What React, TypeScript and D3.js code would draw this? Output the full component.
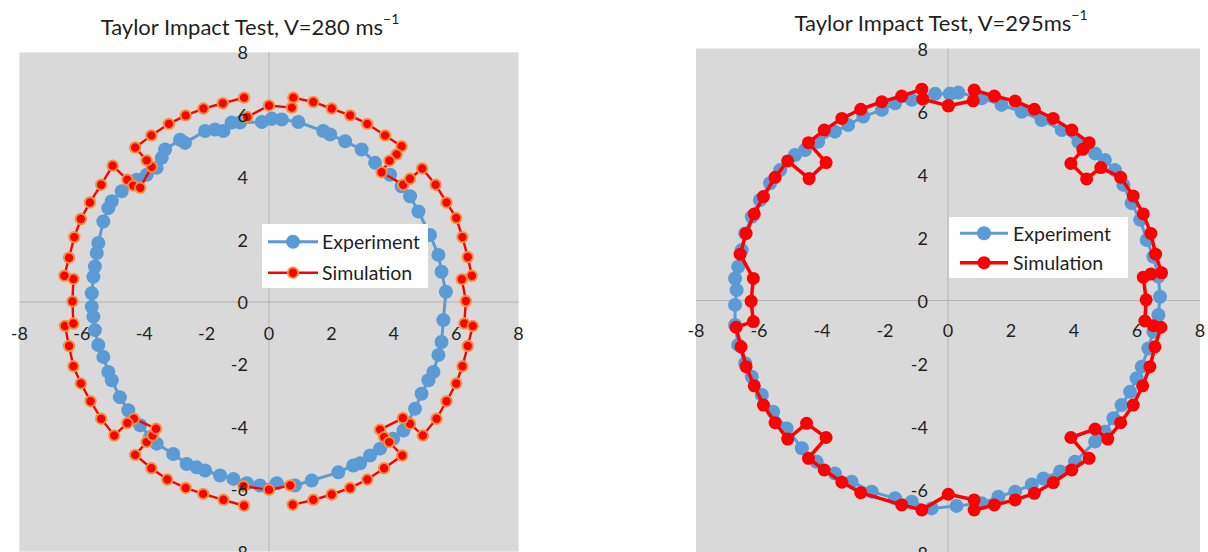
import React from 'react';
import * as d3 from 'd3';

type Pt = [number, number] | null;

// axis ticks shared by both charts
const ticks = [-8, -6, -4, -2, 0, 2, 4, 6, 8];

// V = 280 m/s
const experiment280: Pt[] = [
  [0.09, 5.87], [0.41, 5.85], [0.94, 5.77], [1.74, 5.48], [1.96, 5.37], [2.44, 5.15],
  [2.97, 4.89], [3.4, 4.46], [3.88, 4.08], [4.25, 3.71], [4.52, 3.39], [4.79, 2.9],
  [5.16, 2.15], [5.43, 1.51], [5.53, 0.97], [5.67, 0.33], [5.59, -0.58], [5.53, -1.28],
  [5.43, -1.7], [5.27, -2.24], [5.11, -2.51], [4.89, -2.94], [4.68, -3.42], [4.31, -4.12],
  [3.98, -4.38], [3.56, -4.7], [3.24, -4.92], [2.92, -5.17], [2.7, -5.24], [2.22, -5.46],
  [1.37, -5.72], [0.83, -5.88], [0.25, -5.81], [-0.29, -5.88], [-0.71, -5.81], [-1.14, -5.67],
  [-1.57, -5.56], [-2.05, -5.4], [-2.32, -5.3], [-2.64, -5.19], [-3.07, -4.87], [-3.6, -4.54],
  [-3.81, -4.33], [-4.13, -3.95], [-4.51, -3.47], [-4.78, -3.05], [-5.04, -2.51], [-5.15, -2.24],
  [-5.31, -1.76], [-5.47, -1.38], [-5.58, -0.9], [-5.63, -0.47], [-5.68, -0.15], [-5.68, 0.28],
  [-5.63, 0.81], [-5.58, 1.14], [-5.52, 1.57], [-5.47, 1.89], [-5.31, 2.58], [-5.15, 3.01],
  [-5.04, 3.23], [-4.72, 3.55], [-4.24, 3.92], [-3.92, 4.08], [-3.6, 4.3], [-3.44, 4.62],
  [-3.33, 4.89], [-2.85, 5.2], [-2.69, 5.1], [-2.05, 5.48], [-1.73, 5.53], [-1.46, 5.48],
  [-1.2, 5.75], [-0.93, 5.75], [-0.23, 5.77], [0.09, 5.87],
];

const simulation280: Pt[] = [
  [0.78, 6.55], [1.42, 6.41], [2.01, 6.2], [2.6, 5.98], [3.15, 5.71], [3.72, 5.34],
  [4.25, 4.99], [4.09, 4.73], [3.86, 4.53], [3.61, 4.16], [4.3, 3.76], [4.52, 3.95],
  [4.91, 4.28], [5.34, 3.76], [5.69, 3.19], [6.0, 2.69], [6.2, 2.08], [6.37, 1.44],
  [6.5, 0.84], [6.18, 0.73], [6.31, 0.03], [6.26, -0.69], [6.53, -0.77], [6.37, -1.41],
  [6.2, -2.06], [6.0, -2.61], [5.69, -3.18], [5.37, -3.74], [4.93, -4.28], [4.52, -3.9],
  [4.29, -3.72], [3.56, -4.09], [3.69, -4.33], [3.85, -4.49], [4.27, -4.92], [3.69, -5.33],
  [3.15, -5.69], [2.6, -5.96], [2.01, -6.17], [1.42, -6.34], [0.76, -6.5], null,
  [0.68, -5.88], [0.0, -6.02], [-0.82, -5.9], null,
  [-0.8, -6.53], [-1.46, -6.34], [-2.11, -6.15], [-2.67, -5.96], [-3.26, -5.69], [-3.77, -5.33],
  [-4.29, -4.9], [-3.92, -4.49], [-3.73, -4.28], [-3.62, -4.06], [-4.33, -3.74], [-4.54, -3.88],
  [-4.96, -4.28], [-5.38, -3.74], [-5.72, -3.18], [-6.03, -2.61], [-6.27, -2.06], [-6.41, -1.41],
  [-6.54, -0.77], [-6.27, -0.69], [-6.3, 0.02], [-6.27, 0.74], [-6.56, 0.84], [-6.41, 1.42],
  [-6.24, 2.08], [-6.03, 2.66], [-5.74, 3.19], [-5.38, 3.76], [-5.01, 4.37], [-4.54, 3.92],
  [-4.35, 3.73], [-4.13, 3.66], [-3.76, 4.33], [-3.92, 4.54], [-4.29, 4.95], [-3.77, 5.34],
  [-3.21, 5.71], [-2.67, 5.98], [-2.1, 6.2], [-1.48, 6.37], [-0.8, 6.55], null,
  [-0.7, 5.93], [0.0, 6.3], [0.73, 6.23],
];

// V = 295 m/s
const experiment295: Pt[] = [
  [0.06, 6.56], [0.33, 6.6], [1.07, 6.42], [1.7, 6.21], [2.34, 5.99], [2.97, 5.73],
  [3.61, 5.41], [4.14, 5.04], [4.67, 4.67], [4.98, 4.46], [5.3, 4.14], [5.57, 3.67],
  [5.83, 3.09], [6.1, 2.56], [6.31, 1.92], [6.52, 1.39], [6.68, 0.76], [6.73, 0.12],
  [6.68, -0.46], [6.52, -0.99], [6.36, -1.52], [6.15, -2.1], [5.99, -2.47], [5.78, -2.9],
  [5.51, -3.32], [5.25, -3.74], [4.98, -4.17], [4.67, -4.48], [4.03, -5.12], [3.56, -5.43],
  [3.03, -5.65], [2.66, -5.84], [2.13, -6.07], [1.6, -6.23], [1.07, -6.44], [0.27, -6.52],
  [-0.52, -6.6], [-1.15, -6.39], [-1.68, -6.28], [-2.42, -6.07], [-3.06, -5.75], [-3.59, -5.49],
  [-4.17, -5.12], [-4.64, -4.69], [-5.12, -4.06], [-5.55, -3.53], [-5.91, -3.0], [-6.23, -2.42],
  [-6.44, -1.99], [-6.66, -1.41], [-6.76, -0.78], [-6.76, -0.14], [-6.71, 0.33], [-6.76, 0.7],
  [-6.66, 1.07], [-6.55, 1.6], [-6.44, 2.13], [-6.23, 2.66], [-5.97, 3.19], [-5.65, 3.72],
  [-5.33, 4.14], [-4.86, 4.62], [-4.54, 4.78], [-4.12, 5.04], [-3.59, 5.36], [-3.17, 5.57],
  [-2.69, 5.84], [-2.1, 6.05], [-1.68, 6.26], [-1.15, 6.37], [-0.41, 6.56], [0.06, 6.56],
];

const simulation295: Pt[] = [
  [0.01, 6.18], [0.8, 6.34], [0.83, 6.68], [1.47, 6.49], [2.13, 6.33], [2.74, 6.07],
  [3.34, 5.78], [3.93, 5.41], [4.48, 5.01], [4.28, 4.8], [3.9, 4.35], [4.4, 3.86],
  [4.85, 4.22], [5.48, 3.91], [5.88, 3.32], [6.2, 2.75], [6.44, 2.13], [6.59, 1.47],
  [6.78, 0.88], [6.44, 0.84], [6.2, 0.74], [6.29, 0.02], [6.25, -0.65], [6.52, -0.8],
  [6.76, -0.85], [6.57, -1.47], [6.41, -2.1], [6.18, -2.71], [5.88, -3.32], [5.48, -3.88],
  [5.07, -4.4], [4.67, -4.08], [3.9, -4.35], [4.48, -5.01], [3.93, -5.38], [3.34, -5.78],
  [2.74, -6.12], [2.13, -6.33], [1.47, -6.49], [0.83, -6.65], [0.83, -6.33], [0.01, -6.15],
  [-0.83, -6.65], [-1.47, -6.49], [-2.77, -6.1], [-3.37, -5.77], [-3.93, -5.38], [-4.43, -5.01],
  [-3.87, -4.35], [-4.49, -3.9], [-5.09, -4.4], [-5.49, -3.88], [-5.86, -3.32], [-6.15, -2.71],
  [-6.41, -2.1], [-6.57, -1.47], [-6.73, -0.85], [-6.18, -0.67], [-6.25, -0.02], [-6.18, 0.7],
  [-6.6, 1.47], [-6.41, 2.13], [-6.15, 2.75], [-5.86, 3.3], [-5.49, 3.91], [-5.09, 4.43],
  [-4.41, 3.87], [-3.87, 4.38], [-4.43, 5.01], [-3.93, 5.41], [-3.37, 5.78], [-2.77, 6.07],
  [-2.1, 6.31], [-1.47, 6.49], [-0.83, 6.71], [-0.8, 6.39], [0.01, 6.18],
];

const FONT = 'Lato, "Open Sans", sans-serif';
const TEXT = '#1f1f1f';
const BLUE = '#5b9bd5';
const RED = '#ff0000';
const ORANGE = '#f4913c';

function Chart({ cfg }: { cfg: any }) {
  const x = d3.scaleLinear().domain([-8, 8]).range(cfg.xRange);
  const y = d3.scaleLinear().domain([-8, 8]).range(cfg.yRange);
  const line = d3
    .line<Pt>()
    .defined((d) => d !== null)
    .x((d) => x(d![0]))
    .y((d) => y(d![1]));

  const expPts = cfg.exp.filter((d: Pt) => d !== null) as [number, number][];
  const simPts = cfg.sim.filter((d: Pt) => d !== null) as [number, number][];
  const lg = cfg.legend;
  const sw = cfg.simStroke === 'none' ? 0 : 2;

  return (
    <g>
      <text x={cfg.titleX} y={cfg.titleY} textAnchor="middle" dominantBaseline="central"
        fontSize={22} fill={TEXT}>
        {cfg.title}
        <tspan fontSize={14} dy={-8}>−1</tspan>
      </text>

      <rect x={x(-8)} y={y(8)} width={x(8) - x(-8)} height={y(-8) - y(8)} fill="#d9d9d9" />
      <line x1={x(0)} x2={x(0)} y1={y(8)} y2={y(-8)} stroke="#b3b3b3" strokeWidth={1} />
      <line x1={x(-8)} x2={x(8)} y1={y(0)} y2={y(0)} stroke="#b3b3b3" strokeWidth={1} />

      <path d={line(cfg.exp) ?? ''} fill="none" stroke={BLUE} strokeWidth={3} />
      {expPts.map((d, i) => (
        <circle key={'e' + i} cx={x(d[0])} cy={y(d[1])} r={7} fill={BLUE} />
      ))}

      <path d={line(cfg.sim) ?? ''} fill="none" stroke={RED} strokeWidth={cfg.simLine} />
      {simPts.map((d, i) => (
        <circle key={'s' + i} cx={x(d[0])} cy={y(d[1])} r={cfg.simR} fill={RED}
          stroke={cfg.simStroke} strokeWidth={sw} />
      ))}

      {ticks.map((t) => (
        <text key={'x' + t} x={x(t)} y={y(0) + cfg.xLabelOff} textAnchor="middle"
          dominantBaseline="central" fontSize={18} fill={TEXT}>{t}</text>
      ))}
      {ticks.map((t) => (
        <text key={'y' + t} x={x(0) - cfg.yLabelOff} y={y(t)} textAnchor="end"
          dominantBaseline="central" fontSize={18} fill={TEXT}>{t}</text>
      ))}

      <rect x={lg.x} y={lg.y} width={lg.w} height={lg.h} fill="#ffffff" />
      <line x1={lg.x1} x2={lg.x2} y1={lg.r1} y2={lg.r1} stroke={BLUE} strokeWidth={3} />
      <circle cx={(lg.x1 + lg.x2) / 2} cy={lg.r1} r={7} fill={BLUE} />
      <text x={lg.tx} y={lg.r1} dominantBaseline="central" fontSize={19.5} fill={TEXT}>Experiment</text>
      <line x1={lg.x1} x2={lg.x2} y1={lg.r2} y2={lg.r2} stroke={RED} strokeWidth={cfg.simLine} />
      <circle cx={(lg.x1 + lg.x2) / 2} cy={lg.r2} r={cfg.simR} fill={RED}
        stroke={cfg.simStroke} strokeWidth={sw} />
      <text x={lg.tx} y={lg.r2} dominantBaseline="central" fontSize={19.5} fill={TEXT}>Simulation</text>
    </g>
  );
}

export default function App() {
  const charts = [
    {
      title: 'Taylor Impact Test, V=280 ms',
      exp: experiment280,
      sim: simulation280,
      xRange: [19.4, 518.6],
      yRange: [551.6, 52.4],
      titleX: 250,
      titleY: 26,
      simR: 5.2,
      simLine: 2.4,
      simStroke: ORANGE,
      xLabelOff: 31,
      yLabelOff: 21,
      legend: { x: 262, y: 224, w: 166, h: 64, r1: 241.7, r2: 272.7, x1: 268, x2: 318, tx: 322 },
    },
    {
      title: 'Taylor Impact Test, V=295ms',
      exp: experiment295,
      sim: simulation295,
      xRange: [696, 1200],
      yRange: [552.5, 48.5],
      titleX: 941,
      titleY: 22,
      simR: 6.5,
      simLine: 3.5,
      simStroke: 'none',
      xLabelOff: 29.5,
      yLabelOff: 20,
      legend: { x: 949, y: 217, w: 179, h: 61, r1: 233.3, r2: 262.7, x1: 960, x2: 1008, tx: 1013 },
    },
  ];

  return (
    <svg width={1208} height={552} style={{ position: 'absolute', left: 0, top: 0, background: '#fff' }}
      fontFamily={FONT}>
      {charts.map((c, i) => (
        <Chart key={i} cfg={c} />
      ))}
    </svg>
  );
}
